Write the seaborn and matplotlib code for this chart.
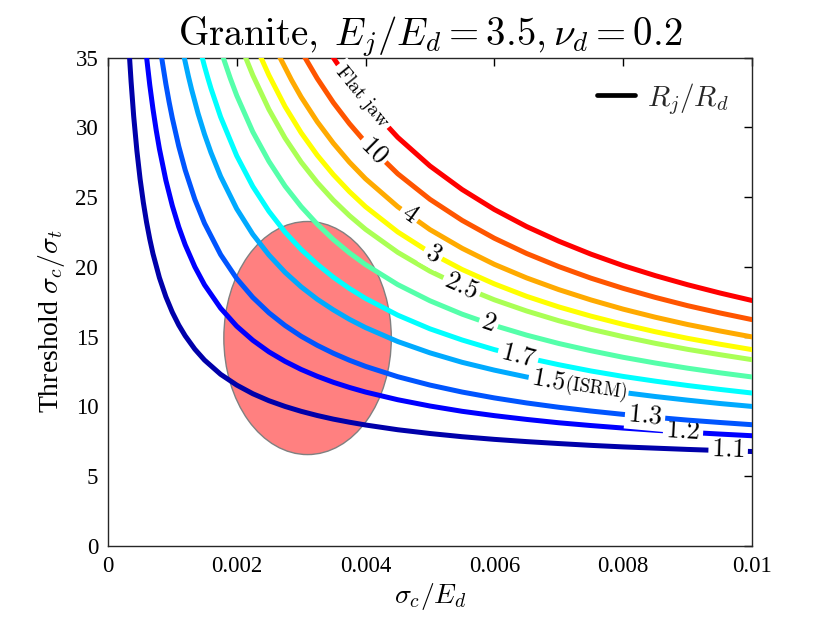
import numpy as np
import matplotlib
matplotlib.use("Agg")
import matplotlib.pyplot as plt
from matplotlib.patches import Ellipse
import seaborn as sns

# Rj/Rd curves, values (x = sigma_c/E_d, y = threshold)
x_11 = [0.000336, 0.00036, 0.0004, 0.00045, 0.0005, 0.00055, 0.0006, 0.00065, 0.0007, 0.0008,
        0.0009, 0.001, 0.0011, 0.0012, 0.00135, 0.0015, 0.00175, 0.002, 0.00225, 0.0025,
        0.00275, 0.003, 0.00325, 0.0035, 0.00375, 0.004, 0.0045, 0.005, 0.0055, 0.006,
        0.0065, 0.007, 0.0075, 0.008, 0.0085, 0.009, 0.0095, 0.01]
y_11 = [35, 33.27, 30.81, 28.32, 26.29, 24.62, 23.20, 21.99, 20.94, 19.22,
        17.86, 16.75, 15.83, 15.06, 14.10, 13.32, 12.30, 11.53, 10.91, 10.41,
        10.00, 9.65, 9.35, 9.09, 8.87, 8.67, 8.33, 8.06, 7.83, 7.64,
        7.48, 7.34, 7.21, 7.10, 7.01, 6.92, 6.84, 6.77]

x_12 = [0.000601, 0.00065, 0.0007, 0.00075, 0.0008, 0.0009, 0.001, 0.0011, 0.0012, 0.00135,
        0.0015, 0.00175, 0.002, 0.00225, 0.0025, 0.00275, 0.003, 0.00325, 0.0035, 0.00375,
        0.004, 0.0045, 0.005, 0.0055, 0.006, 0.0065, 0.007, 0.0075, 0.008, 0.0085,
        0.009, 0.0095, 0.01]
y_12 = [35, 33.03, 31.30, 29.79, 28.45, 26.20, 24.38, 22.86, 21.58, 20.00,
        18.71, 17.04, 15.75, 14.74, 13.91, 13.23, 12.65, 12.16, 11.73, 11.36,
        11.03, 10.48, 10.03, 9.65, 9.34, 9.07, 8.83, 8.63, 8.45, 8.29,
        8.15, 8.02, 7.90]

x_13 = [0.000834, 0.0009, 0.00095, 0.001, 0.0011, 0.0012, 0.00135, 0.0015, 0.00175, 0.002,
        0.00225, 0.0025, 0.00275, 0.003, 0.00325, 0.0035, 0.00375, 0.004, 0.0045, 0.005,
        0.0055, 0.006, 0.0065, 0.007, 0.0075, 0.008, 0.0085, 0.009, 0.0095, 0.01]
y_13 = [35, 33.10, 31.82, 30.66, 28.64, 26.94, 24.83, 23.12, 20.88, 19.16,
        17.81, 16.71, 15.80, 15.03, 14.38, 13.81, 13.31, 12.87, 12.13, 11.53,
        11.03, 10.61, 10.25, 9.94, 9.67, 9.43, 9.22, 9.02, 8.85, 8.69]

x_15 = [0.001185, 0.00125, 0.0013, 0.0014, 0.0015, 0.0016, 0.00175, 0.002, 0.00225, 0.0025,
        0.00275, 0.003, 0.00325, 0.0035, 0.00375, 0.004, 0.0045, 0.005, 0.0055, 0.006,
        0.0065, 0.007, 0.0075, 0.008, 0.0085, 0.009, 0.0095, 0.01]
y_15 = [35, 33.65, 32.70, 30.99, 29.50, 28.19, 26.48, 24.16, 22.33, 20.85,
        19.61, 18.57, 17.68, 16.92, 16.24, 15.65, 14.65, 13.84, 13.16, 12.60,
        12.11, 11.69, 11.32, 11.00, 10.71, 10.45, 10.21, 10.0]

x_17 = [0.001464, 0.0015, 0.00155, 0.0016, 0.00175, 0.002, 0.00225, 0.0025, 0.00275, 0.003,
        0.00325, 0.0035, 0.00375, 0.004, 0.0045, 0.005, 0.0055, 0.006, 0.0065, 0.007,
        0.0075, 0.008, 0.0085, 0.009, 0.0095, 0.01]
y_17 = [35, 34.37, 33.56, 32.79, 30.74, 27.96, 25.76, 23.98, 22.49, 21.25,
        20.19, 19.26, 18.45, 17.74, 16.54, 15.56, 14.76, 14.07, 13.49, 12.99,
        12.54, 12.15, 11.81, 11.50, 11.22, 10.96]

x_20 = [0.00179, 0.0019, 0.002, 0.00225, 0.0025, 0.00275, 0.003, 0.00325, 0.0035, 0.00375,
        0.004, 0.0045, 0.005, 0.0055, 0.006, 0.0065, 0.007, 0.0075, 0.008, 0.0085,
        0.009, 0.0095, 0.01]
y_20 = [35, 33.51, 32.28, 29.67, 27.56, 25.79, 24.32, 23.06, 21.96, 21.00,
        20.16, 18.73, 17.57, 16.61, 15.80, 15.11, 14.51, 13.99, 13.52, 13.11,
        12.74, 12.41, 12.11]

x_25 = [0.002138, 0.00225, 0.0025, 0.00275, 0.003, 0.00325, 0.0035, 0.00375, 0.004, 0.0045,
        0.005, 0.0055, 0.006, 0.0065, 0.007, 0.0075, 0.008, 0.0085, 0.009, 0.0095, 0.01]
y_25 = [35, 33.73, 31.28, 29.23, 27.51, 26.05, 24.78, 23.67, 22.69, 21.04,
        19.69, 18.58, 17.64, 16.84, 16.14, 15.53, 15.00, 14.52, 14.09, 13.71, 13.35]

x_30 = [0.002376, 0.0025, 0.00275, 0.003, 0.00325, 0.0035, 0.00375, 0.004, 0.0045, 0.005,
        0.0055, 0.006, 0.0065, 0.007, 0.0075, 0.008, 0.0085, 0.009, 0.0095, 0.01]
y_30 = [35, 33.73, 31.49, 29.61, 28.00, 26.61, 25.39, 24.31, 22.50, 21.03,
        19.81, 18.78, 17.89, 17.13, 16.47, 15.88, 15.35, 14.88, 14.46, 14.07]

x_40 = [0.002671, 0.00285, 0.003, 0.00325, 0.0035, 0.00375, 0.004, 0.0045, 0.005, 0.0055,
        0.006, 0.0065, 0.007, 0.0075, 0.008, 0.0085, 0.009, 0.0095, 0.01]
y_40 = [35, 33.39, 32.17, 30.40, 28.86, 27.50, 26.31, 24.31, 22.67, 21.33,
        20.18, 19.21, 18.37, 17.63, 16.97, 16.39, 15.87, 15.41, 14.98]

x_100 = [0.003059, 0.00325, 0.0035, 0.00375, 0.004, 0.0045, 0.005, 0.0055, 0.006, 0.0065,
         0.007, 0.0075, 0.008, 0.0085, 0.009, 0.0095, 0.01]
y_100 = [35, 33.50, 31.77, 30.26, 28.92, 26.67, 24.84, 23.33, 22.05, 20.96,
         20.02, 19.19, 18.46, 17.81, 17.22, 16.70, 16.22]

x_flat = [0.003498, 0.00375, 0.004, 0.0045, 0.005, 0.0055, 0.006, 0.0065, 0.007, 0.0075,
          0.008, 0.0085, 0.009, 0.0095, 0.01]
y_flat = [35, 33.28, 31.79, 29.28, 27.23, 25.54, 24.11, 22.89, 21.84, 20.91,
          20.09, 19.37, 18.72, 18.13, 17.59]

curve_x = [x_11, x_12, x_13, x_15, x_17, x_20, x_25, x_30, x_40, x_100, x_flat]
curve_y = [y_11, y_12, y_13, y_15, y_17, y_20, y_25, y_30, y_40, y_100, y_flat]
curve_labels = ["$1.1$", "$1.2$", "$1.3$", "$1.5$", "$1.7$", "$2$", "$2.5$",
                "$3$", "$4$", "$10$", r"$\mathrm{Flat\ jaw}$"]

# granite data cloud (centre, width, height)
cloud_xy = (0.0031, 14.9)
cloud_w = 0.0026
cloud_h = 16.7

x_ticks = [0, 0.002, 0.004, 0.006, 0.008, 0.01]
x_tick_labels = ["0", "0.002", "0.004", "0.006", "0.008", "0.01"]
y_ticks = [0, 5, 10, 15, 20, 25, 30, 35]

# MATLAB jet(11)
colors = [(0, 0, 2/3), (0, 0, 1), (0, 1/3, 1), (0, 2/3, 1), (0, 1, 1),
          (1/3, 1, 2/3), (2/3, 1, 1/3), (1, 1, 0), (1, 2/3, 0), (1, 1/3, 0), (1, 0, 0)]

# where the inline labels sit along each curve
label_pos = [0.00963, 0.00893, 0.00834, 0.00684, 0.00637, 0.00591, 0.00549,
             0.00505, 0.00468, 0.00413, 0.00394]
label_size = [19, 19, 19, 19, 19, 19, 19, 19, 19, 19, 14.5]

sns.set_theme(style="white")
plt.rcParams["font.family"] = ["Liberation Serif", "DejaVu Serif"]
plt.rcParams["mathtext.fontset"] = "cm"

fig, ax = plt.subplots(figsize=(8.3, 6.23), dpi=100)
fig.subplots_adjust(left=0.130, right=0.906, bottom=0.1236, top=0.9077)

ax.set_xlim(0, 0.01)
ax.set_ylim(0, 35)

ax.add_patch(Ellipse(cloud_xy, cloud_w, cloud_h, facecolor="#ff8080",
                     edgecolor="#808080", linewidth=1.0, zorder=2))

for k in range(len(curve_x)):
    sns.lineplot(x=curve_x[k], y=curve_y[k], color=colors[k], linewidth=3.6,
                 sort=False, estimator=None, ax=ax, zorder=3 + 0.1 * k)


def put_label(xs, ys, xpos, text, size, z, pad=2.0):
    ypos = np.interp(xpos, xs, ys)
    d = 1.5e-4
    p1 = ax.transData.transform((xpos - d, np.interp(xpos - d, xs, ys)))
    p2 = ax.transData.transform((xpos + d, np.interp(xpos + d, xs, ys)))
    ang = np.degrees(np.arctan2(p2[1] - p1[1], p2[0] - p1[0]))
    ax.text(xpos, ypos, text, rotation=ang, rotation_mode="anchor",
            ha="center", va="center", fontsize=size, color="black",
            bbox=dict(facecolor="white", edgecolor="none", pad=pad), zorder=z)


for k in range(len(curve_x)):
    put_label(curve_x[k], curve_y[k], label_pos[k], curve_labels[k],
              label_size[k], 3.05 + 0.1 * k)
put_label(x_15, y_15, 0.00758, r"$\mathrm{(ISRM)}$", 13.5, 3.35, pad=1.0)

ax.plot([], [], color="black", linewidth=3.4, label=r"$R_j/R_d$")
ax.legend(loc="upper right", frameon=False, fontsize=21, handlelength=1.3,
          handletextpad=0.4, borderaxespad=0.4)

ax.set_xticks(x_ticks)
ax.set_xticklabels(x_tick_labels)
ax.set_yticks(y_ticks)
ax.tick_params(direction="in", top=True, right=True, length=6, width=1,
               labelsize=16.5, colors="black", pad=7)
for s in ax.spines.values():
    s.set_color("#262626")
    s.set_linewidth(1.0)

ax.set_title(r"$\mathrm{Granite,}\;E_j/E_d=3.5, \nu_d=0.2$", fontsize=28, pad=9,
             color="black")
ax.set_xlabel(r"$\sigma_c/E_d$", fontsize=20, color="black", labelpad=3)
ax.set_ylabel(r"Threshold $\sigma_c/\sigma_t$", fontsize=20, color="black")
ax.yaxis.set_label_coords(-0.064, 0.46)

fig.savefig("out.png", dpi=100)
